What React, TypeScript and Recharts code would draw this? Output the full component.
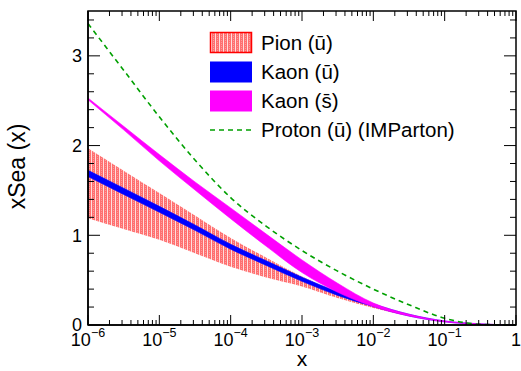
import { ComposedChart, Area, Line, XAxis, YAxis, Legend } from "recharts";

const FONT = '"Liberation Sans", Arial, Helvetica, sans-serif';
const W = 521;
const H = 371;
const margin = { top: 11, right: 5, bottom: 45, left: 87 };
// frame edges (axis boxes are 1px wide)
const PLOT_LEFT = margin.left + 1;
const PLOT_RIGHT = W - margin.right;
const PLOT_TOP = margin.top;
const PLOT_BOTTOM = H - margin.bottom - 1;

// x sampled every half decade
const xValues = [1e-6, 3.16e-6, 1e-5, 3.16e-5, 1e-4, 3.16e-4, 1e-3, 3.16e-3, 1e-2, 3.16e-2, 1e-1, 3.16e-1, 1];

const pionLow = [1.19, 1.07, 0.95, 0.8, 0.65, 0.53, 0.43, 0.3, 0.19, 0.1, 0.035, 0.008, 0];
const pionHigh = [1.97, 1.72, 1.47, 1.22, 0.97, 0.75, 0.54, 0.36, 0.22, 0.115, 0.045, 0.012, 0];
const kaonULow = [1.655, 1.455, 1.257, 1.055, 0.845, 0.664, 0.487, 0.33, 0.205, 0.1, 0.035, 0.008, 0];
const kaonUHigh = [1.725, 1.525, 1.323, 1.115, 0.9, 0.716, 0.533, 0.37, 0.235, 0.12, 0.045, 0.012, 0];
const kaonSLow = [2.51, 2.175, 1.83, 1.505, 1.185, 0.877, 0.585, 0.365, 0.205, 0.1, 0.035, 0.007, 0];
const kaonSHigh = [2.53, 2.215, 1.9, 1.595, 1.305, 1.013, 0.725, 0.465, 0.245, 0.12, 0.045, 0.013, 0];
const proton = [3.36, 2.84, 2.32, 1.84, 1.42, 1.1, 0.83, 0.6, 0.4, 0.225, 0.075, 0.008, 0];

const xDecades = [1e-6, 1e-5, 1e-4, 1e-3, 1e-2, 1e-1, 1];
const xDecadeExps = ["\u22126", "\u22125", "\u22124", "\u22123", "\u22122", "\u22121", ""];
const xMinorSteps = [2, 3, 4, 5, 6, 7, 8, 9];
const xTicks = xDecades.flatMap((d, i) =>
  i < xDecades.length - 1 ? [d, ...xMinorSteps.map((m) => m * d)] : [d]
);

const yTicks = [0, 0.2, 0.4, 0.6, 0.8, 1, 1.2, 1.4, 1.6, 1.8, 2, 2.2, 2.4, 2.6, 2.8, 3, 3.2, 3.4];
const yMajor = [0, 1, 2, 3];

const legendLabels = ["Pion (\u016B)", "Kaon (\u016B)", "Kaon (s\u0304)", "Proton (\u016B) (IMParton)"];

const data = xValues.map((x, i) => ({
  x,
  pion: [pionLow[i], pionHigh[i]],
  kaonU: [kaonULow[i], kaonUHigh[i]],
  kaonS: [kaonSLow[i], kaonSHigh[i]],
  proton: proton[i],
}));

const decadeIndex = (v: number) => xDecades.findIndex((d) => Math.abs(d - v) / d < 1e-9);

// bottom tick + matching tick on the top frame edge
function XTick(props: any) {
  const { x, y, payload } = props;
  const idx = decadeIndex(payload.value);
  const major = idx >= 0;
  const len = major ? 10 : 5;
  return (
    <g>
      <line x1={x} x2={x} y1={y} y2={y - len} stroke="#000" strokeWidth={1} />
      <line x1={x} x2={x} y1={PLOT_TOP} y2={PLOT_TOP + len} stroke="#000" strokeWidth={1} />
      {major && (
        <text x={x} y={345.5} textAnchor="middle" fontSize={18} fontFamily={FONT} fill="#000">
          {xDecadeExps[idx] === "" ? "1" : "10"}
          {xDecadeExps[idx] !== "" && (
            <tspan dy={-9} fontSize={12.5}>
              {xDecadeExps[idx]}
            </tspan>
          )}
        </text>
      )}
    </g>
  );
}

// left tick + matching tick on the right frame edge
function YTick(props: any) {
  const { x, y, payload } = props;
  const major = yMajor.includes(payload.value);
  const len = major ? 12 : 6;
  return (
    <g>
      <line x1={x} x2={x + len} y1={y} y2={y} stroke="#000" strokeWidth={1} />
      <line x1={PLOT_RIGHT} x2={PLOT_RIGHT - len} y1={y} y2={y} stroke="#000" strokeWidth={1} />
      {major && (
        <text x={x - 6} y={y} dy="0.35em" textAnchor="end" fontSize={18} fontFamily={FONT} fill="#000">
          {payload.value}
        </text>
      )}
    </g>
  );
}

function LegendBox() {
  const rowY = [32.5, 61.5, 90.5];
  const baselines = [50, 79, 108, 137];
  return (
    <svg width={W} height={H} style={{ display: "block" }}>
      {/* plot frame */}
      <rect
        x={PLOT_LEFT}
        y={PLOT_TOP}
        width={PLOT_RIGHT - PLOT_LEFT}
        height={PLOT_BOTTOM - PLOT_TOP}
        fill="none"
        stroke="#000"
        strokeWidth={1.5}
      />
      <rect x={210.5} y={rowY[0]} width={41} height={20} fill="url(#pionHatch)" stroke="#ff0000" strokeWidth={1.5} />
      <rect x={210} y={rowY[1]} width={42} height={21} fill="#0000ff" />
      <rect x={210} y={rowY[2]} width={42} height={21} fill="#ff00ff" />
      <line x1={210} x2={252} y1={130} y2={130} stroke="#00a000" strokeWidth={1.6} strokeDasharray="5 4" />
      {legendLabels.map((t, i) => (
        <text key={t} x={261} y={baselines[i]} fontSize={20.5} fontFamily={FONT} fill="#000">
          {t}
        </text>
      ))}
    </svg>
  );
}

export default function App() {
  return (
    <div style={{ position: "absolute", left: 0, top: 0, background: "#fff" }}>
      <ComposedChart width={W} height={H} data={data} margin={margin}>
        <defs>
          <pattern id="pionHatch" patternUnits="userSpaceOnUse" width={4} height={2}>
            <rect width={4} height={2} fill="#ff7070" />
            <rect x={1} y={0} width={1} height={1} fill="#ff9c9c" />
            <rect x={3} width={1} height={2} fill="#ffdede" />
          </pattern>
        </defs>
        <XAxis
          dataKey="x"
          type="number"
          scale="log"
          domain={[1e-6, 1]}
          ticks={xTicks}
          interval={0}
          height={1}
          tickSize={0}
          tickMargin={0}
          tickLine={false}
          tick={<XTick />}
          stroke="#000"
          axisLine={{ stroke: "#000", strokeWidth: 1.5 }}
          label={{
            content: () => (
              <text x={302} y={366} textAnchor="middle" fontSize={21} fontFamily={FONT} fill="#000">
                x
              </text>
            ),
          }}
        />
        <YAxis
          type="number"
          domain={[0, 3.5]}
          ticks={yTicks}
          interval={0}
          width={1}
          tickSize={0}
          tickMargin={0}
          tickLine={false}
          tick={<YTick />}
          stroke="#000"
          axisLine={{ stroke: "#000", strokeWidth: 1.5 }}
          label={{
            content: () => (
              <text
                transform="translate(25,166.5) rotate(-90)"
                textAnchor="middle"
                fontSize={23}
                fontFamily={FONT}
                fill="#000"
              >
                xSea (x)
              </text>
            ),
          }}
        />
        <Area
          dataKey="pion"
          name="Pion"
          type="monotone"
          fill="url(#pionHatch)"
          fillOpacity={1}
          stroke="none"
          dot={false}
          activeDot={false}
          isAnimationActive={false}
        />
        <Area
          dataKey="kaonU"
          name="Kaon u"
          type="monotone"
          fill="#0000ff"
          fillOpacity={1}
          stroke="#0000ff"
          strokeWidth={0.6}
          dot={false}
          activeDot={false}
          isAnimationActive={false}
        />
        <Area
          dataKey="kaonS"
          name="Kaon s"
          type="monotone"
          fill="#ff00ff"
          fillOpacity={1}
          stroke="#ff00ff"
          strokeWidth={0.6}
          dot={false}
          activeDot={false}
          isAnimationActive={false}
        />
        <Line
          dataKey="proton"
          name="Proton"
          type="monotone"
          stroke="#00a000"
          strokeWidth={1.6}
          strokeDasharray="5 4"
          dot={false}
          activeDot={false}
          isAnimationActive={false}
        />
        <Legend
          layout="vertical"
          align="center"
          verticalAlign="middle"
          content={() => <LegendBox />}
          wrapperStyle={{ position: "absolute", left: 0, top: 0, width: W, height: H, pointerEvents: "none" }}
        />
      </ComposedChart>
    </div>
  );
}
